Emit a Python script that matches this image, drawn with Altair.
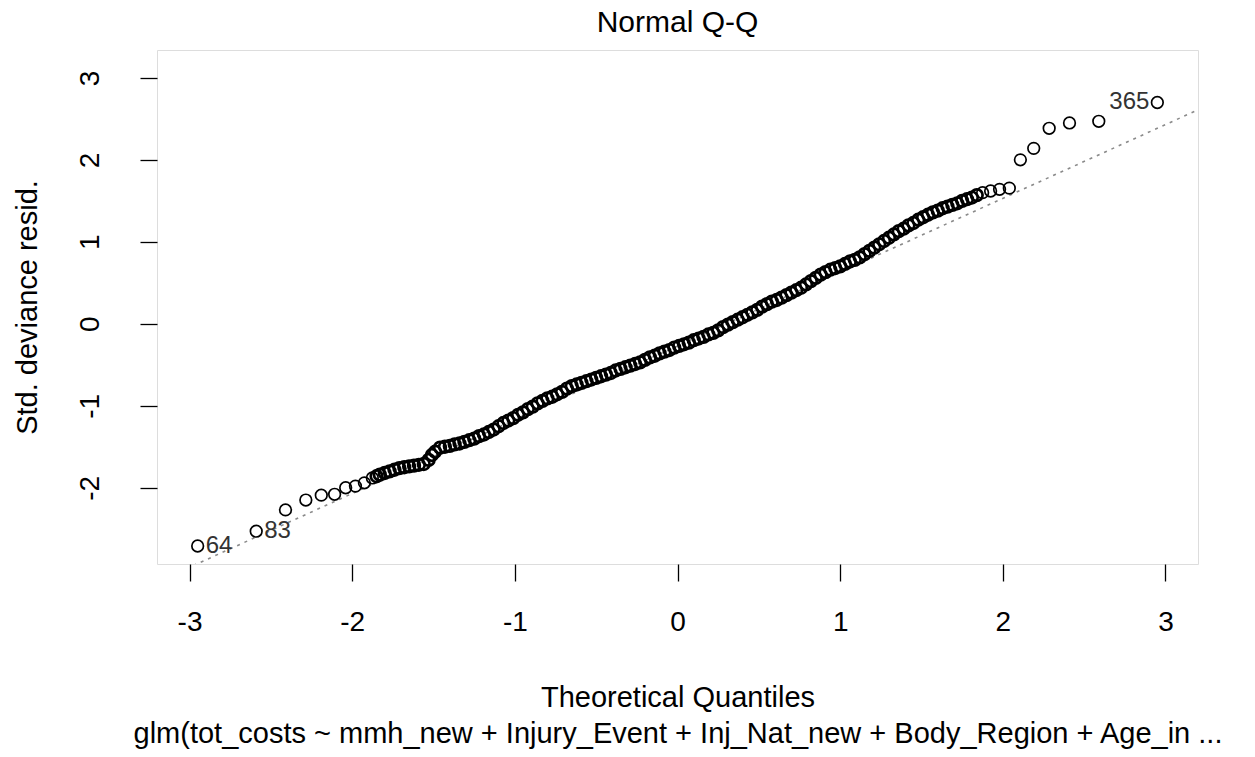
import altair as alt
import pandas as pd

# Theoretical quantiles (x) and standardized deviance residuals (y)
qx = [-2.95, -2.59, -2.41, -2.285, -2.19, -2.108, -2.04, -1.98, -1.925, -1.876,
      -1.85, -1.83, -1.80, -1.77, -1.74, -1.71, -1.68, -1.65, -1.62, -1.59, -1.56,
      -1.53, -1.51, -1.49, -1.46, -1.43, -1.40, -1.37, -1.34, -1.31, -1.28, -1.25,
      -1.22, -1.19, -1.16, -1.13, -1.10, -1.07, -1.04, -1.01, -0.98, -0.95, -0.92,
      -0.89, -0.86, -0.83, -0.80, -0.77, -0.74, -0.71, -0.68, -0.65, -0.62, -0.59,
      -0.56, -0.53, -0.50, -0.47, -0.44, -0.41, -0.38, -0.35, -0.32, -0.29, -0.26,
      -0.23, -0.20, -0.17, -0.14, -0.11, -0.08, -0.05, -0.02, 0.01, 0.04, 0.07,
      0.10, 0.13, 0.16, 0.19, 0.22, 0.25, 0.28, 0.31, 0.34, 0.37, 0.40, 0.43, 0.46,
      0.49, 0.52, 0.55, 0.58, 0.61, 0.64, 0.67, 0.70, 0.73, 0.76, 0.79, 0.82, 0.85,
      0.88, 0.91, 0.94, 0.97, 1.00, 1.03, 1.06, 1.09, 1.12, 1.15, 1.18, 1.21, 1.24,
      1.27, 1.30, 1.33, 1.36, 1.39, 1.42, 1.45, 1.48, 1.51, 1.54, 1.57, 1.60, 1.63,
      1.66, 1.69, 1.72, 1.75, 1.78, 1.81, 1.84,
      1.876, 1.925, 1.98, 2.04, 2.108, 2.19, 2.285, 2.41, 2.59, 2.95]
resid = [-2.71, -2.53, -2.27, -2.15, -2.09, -2.08, -2.00, -1.98, -1.94, -1.88,
         -1.86, -1.84, -1.82, -1.80, -1.78, -1.76, -1.75, -1.74, -1.73, -1.72, -1.71,
         -1.66, -1.60, -1.56, -1.51, -1.50, -1.49, -1.47, -1.46, -1.44, -1.42, -1.40,
         -1.37, -1.35, -1.32, -1.29, -1.25, -1.21, -1.18, -1.15, -1.11, -1.08, -1.04,
         -1.01, -0.97, -0.94, -0.91, -0.89, -0.86, -0.83, -0.79, -0.76, -0.74, -0.72,
         -0.70, -0.68, -0.66, -0.64, -0.62, -0.60, -0.57, -0.55, -0.53, -0.51, -0.49,
         -0.47, -0.44, -0.41, -0.39, -0.36, -0.34, -0.32, -0.29, -0.27, -0.25, -0.23,
         -0.20, -0.18, -0.16, -0.13, -0.11, -0.08, -0.04, -0.01, 0.02, 0.05, 0.08,
         0.11, 0.14, 0.17, 0.21, 0.24, 0.27, 0.29, 0.32, 0.35, 0.38, 0.41, 0.44, 0.48,
         0.52, 0.56, 0.60, 0.63, 0.66, 0.68, 0.70, 0.73, 0.76, 0.78, 0.81, 0.85, 0.89,
         0.93, 0.97, 1.01, 1.05, 1.09, 1.13, 1.16, 1.20, 1.23, 1.27, 1.30, 1.33, 1.36,
         1.38, 1.41, 1.43, 1.45, 1.47, 1.50, 1.52, 1.54, 1.57,
         1.60, 1.62, 1.64, 1.655, 2.00, 2.14, 2.385, 2.45, 2.47, 2.70]

# Labelled extreme observations
lab_x = [-2.95, -2.59, 2.95]
lab_y = [-2.71, -2.53, 2.70]
lab_text = ["64", "83", "365"]
lab_side = ["left", "left", "right"]

# Reference Q-Q line
line_intercept = -0.27
line_slope = 0.90

x_domain = [-3.2, 3.2]
y_domain = [-2.93, 3.34]
x_ticks = [-3, -2, -1, 0, 1, 2, 3]
y_ticks = [-2, -1, 0, 1, 2, 3]

FONT = "Liberation Sans"

pts = pd.DataFrame({"x": qx, "y": resid})
labs = pd.DataFrame({"x": lab_x, "y": lab_y, "t": lab_text, "side": lab_side})
ln = pd.DataFrame({"x": x_domain})

xs = alt.Scale(domain=x_domain, nice=False, zero=False)
ys = alt.Scale(domain=y_domain, nice=False, zero=False)

xaxis = alt.Axis(values=x_ticks, labelExpr="'' + datum.value", title=["Theoretical Quantiles",
                 "glm(tot_costs ~ mmh_new + Injury_Event + Inj_Nat_new + Body_Region + Age_in ..."],
                 grid=False, domain=False, tickSize=17, tickColor="black", tickWidth=1.3,
                 labelFont=FONT, labelFontSize=28, labelColor="black", labelPadding=27,
                 titleFont=FONT, titleFontSize=29, titleFontWeight="normal", titleColor="black",
                 titlePadding=47, titleLineHeight=36)
yaxis = alt.Axis(values=y_ticks, labelExpr="'' + datum.value", title="Std. deviance resid.",
                 grid=False, domain=False, tickSize=17, tickColor="black", tickWidth=1.3,
                 labelFont=FONT, labelFontSize=28, labelColor="black", labelAngle=270,
                 labelAlign="center", labelBaseline="bottom", labelPadding=36,
                 titleFont=FONT, titleFontSize=29, titleFontWeight="normal", titleColor="black",
                 titlePadding=34)

points = alt.Chart(pts).transform_calculate(
    dense="abs(datum.x) < 1.86 ? 'd' : 't'"
).mark_point(shape="circle", filled=False, size=135, color="black", opacity=1).encode(
    x=alt.X("x:Q", scale=xs, axis=xaxis),
    y=alt.Y("y:Q", scale=ys, axis=yaxis),
    strokeWidth=alt.StrokeWidth("dense:N", scale=alt.Scale(domain=["d", "t"], range=[2.7, 1.7]),
                                legend=None),
)

qqline = alt.Chart(ln).transform_calculate(
    y=f"{line_intercept} + {line_slope} * datum.x"
).mark_line(color="#8a8a8a", strokeDash=[3, 5], strokeWidth=1.6, clip=True).encode(
    x=alt.X("x:Q", scale=xs),
    y=alt.Y("y:Q", scale=ys),
)

left_labels = alt.Chart(labs).transform_filter("datum.side == 'left'").mark_text(
    align="left", baseline="middle", dx=8, font=FONT, fontSize=24, color="#333333"
).encode(x=alt.X("x:Q", scale=xs), y=alt.Y("y:Q", scale=ys), text="t:N")

right_labels = alt.Chart(labs).transform_filter("datum.side == 'right'").mark_text(
    align="right", baseline="middle", dx=-8, font=FONT, fontSize=24, color="#333333"
).encode(x=alt.X("x:Q", scale=xs), y=alt.Y("y:Q", scale=ys), text="t:N")

chart = alt.layer(qqline, points, left_labels, right_labels).properties(
    width=1041, height=514,
    title=alt.TitleParams("Normal Q-Q", font=FONT, fontSize=30, fontWeight="normal",
                          color="black", anchor="middle", offset=12),
    autosize=alt.AutoSizeParams(type="none"),
    padding={"left": 157, "top": 50, "right": 57, "bottom": 193},
).configure_view(stroke="black", strokeWidth=1.5).configure(background="white")

chart.save("out.html", embed_options={"renderer": "svg", "actions": False})
